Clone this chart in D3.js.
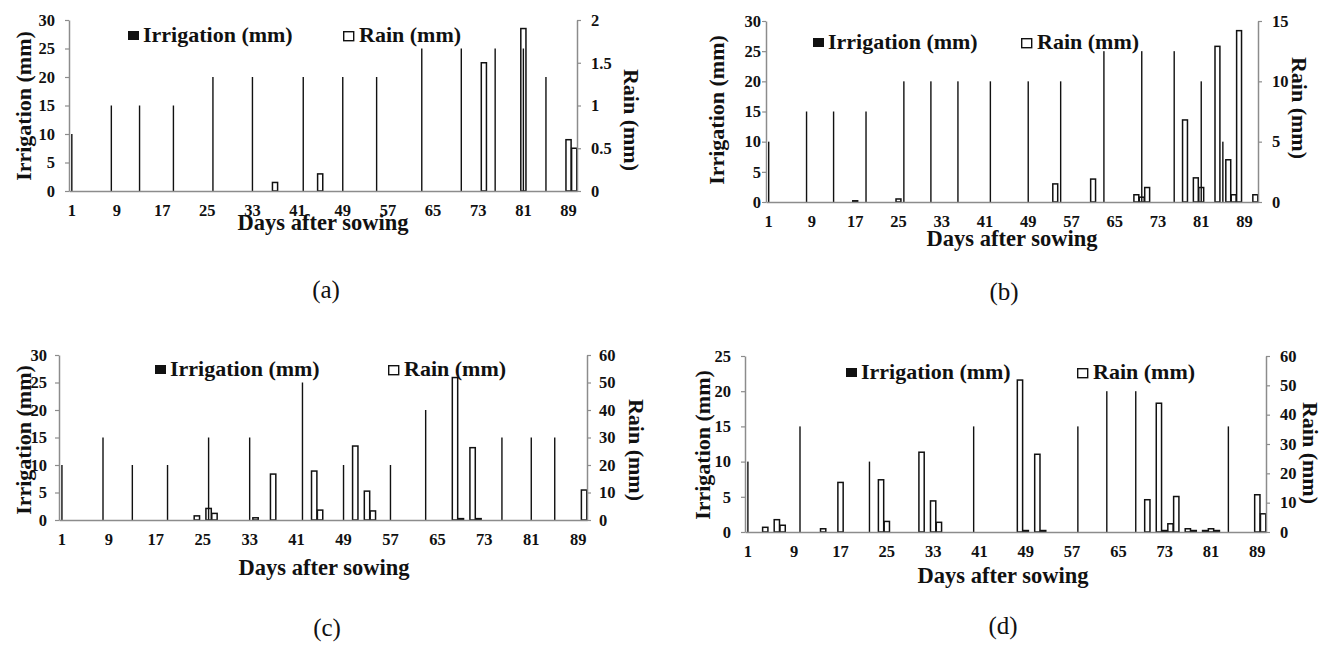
<!DOCTYPE html>
<html>
<head>
<meta charset="utf-8">
<script src="https://cdn.jsdelivr.net/npm/d3@7"></script>
<style>
  body { margin: 0; background: #fff; }
  svg { display: block; }
  text { font-family: "Liberation Serif", "Times New Roman", "DejaVu Serif", serif; fill: #111; }
</style>
</head>
<body>
<div id="chart"></div>
<script>
// x tick labels shared by all four panels
var xTickLabels = [1, 9, 17, 25, 33, 41, 49, 57, 65, 73, 81, 89];
var irrTicks30 = [0, 5, 10, 15, 20, 25, 30];
var irrTicks25 = [0, 5, 10, 15, 20, 25];
var rainTicksA = [0, 0.5, 1, 1.5, 2];
var rainTicksB = [0, 5, 10, 15];
var rainTicksCD = [0, 10, 20, 30, 40, 50, 60];

// (a)
var irrDaysA = [1, 8, 13, 19, 26, 33, 42, 49, 55, 63, 70, 76, 81, 85];
var irrValsA = [10, 15, 15, 15, 20, 20, 20, 20, 20, 25, 25, 25, 25, 20];
var rainDaysA = [37, 45, 74, 81, 89, 90];
var rainValsA = [0.1, 0.2, 1.5, 1.9, 0.6, 0.5];

// (b)
var irrDaysB = [1, 8, 13, 19, 26, 31, 36, 42, 49, 55, 63, 70, 76, 81, 85];
var irrValsB = [10, 15, 15, 15, 20, 20, 20, 20, 20, 20, 25, 25, 25, 20, 10];
var rainDaysB = [17, 25, 54, 61, 69, 70, 71, 78, 80, 81, 84, 86, 87, 88, 91];
var rainValsB = [0.1, 0.25, 1.5, 1.9, 0.6, 0.4, 1.2, 6.8, 2.0, 1.2, 12.9, 3.5, 0.6, 14.2, 0.6];

// (c)
var irrDaysC = [1, 8, 13, 19, 26, 33, 42, 49, 57, 63, 76, 81, 85];
var irrValsC = [10, 15, 10, 10, 15, 15, 25, 10, 10, 20, 15, 15, 15];
var rainDaysC = [24, 26, 27, 34, 37, 44, 45, 51, 53, 54, 68, 69, 71, 72, 90];
var rainValsC = [1.5, 4.2, 2.4, 0.8, 16.7, 17.8, 3.6, 26.9, 10.5, 3.3, 51.8, 0.5, 26.3, 0.5, 10.9];

// (d)
var irrDaysD = [1, 10, 22, 40, 58, 63, 68, 84];
var irrValsD = [10, 15, 10, 15, 15, 20, 20, 15];
var rainDaysD = [4, 6, 7, 14, 17, 24, 25, 31, 33, 34, 48, 49, 51, 52, 70, 72, 73, 74, 75, 77, 78, 80, 81, 82, 89, 90];
var rainValsD = [1.6, 4.2, 2.3, 1.1, 16.9, 17.8, 3.6, 27.2, 10.6, 3.3, 51.8, 0.5, 26.5, 0.5, 11, 43.9, 0.5, 2.8, 12.1, 1.1, 0.5, 0.5, 1.1, 0.5, 12.7, 6.2];

var FONT = '"Liberation Serif", "Times New Roman", "DejaVu Serif", serif';

var svg = d3.select('#chart')
    .append('svg')
    .attr('width', 1338)
    .attr('height', 645);

var panels = [
    { tag: '(a)', nDays: 90, left: 69, right: 577, top: 20, bottom: 191,
      irrMax: 30, irrTicks: irrTicks30, rainMax: 2, rainTicks: rainTicksA,
      irrDays: irrDaysA, irrVals: irrValsA, rainDays: rainDaysA, rainVals: rainValsA,
      lGap: 14, rGap: 14, lTitleX: 23, lTitleY: 106, rTitleX: 632, rTitleY: 120,
      legIrrX: 128, legRainX: 343, legY: 31,
      daysX: 323, daysY: 230, tagX: 326, tagY: 298 },
    { tag: '(b)', nDays: 91, left: 766, right: 1258, top: 21, bottom: 202,
      irrMax: 30, irrTicks: irrTicks30, rainMax: 15, rainTicks: rainTicksB,
      irrDays: irrDaysB, irrVals: irrValsB, rainDays: rainDaysB, rainVals: rainValsB,
      lGap: 5, rGap: 14, lTitleX: 716, lTitleY: 110, rTitleX: 1300, rTitleY: 108,
      legIrrX: 813, legRainX: 1021, legY: 38,
      daysX: 1012, daysY: 246, tagX: 1004, tagY: 300 },
    { tag: '(c)', nDays: 90, left: 59, right: 587, top: 355, bottom: 520,
      irrMax: 30, irrTicks: irrTicks30, rainMax: 60, rainTicks: rainTicksCD,
      irrDays: irrDaysC, irrVals: irrValsC, rainDays: rainDaysC, rainVals: rainValsC,
      lGap: 12, rGap: 12, lTitleX: 23, lTitleY: 440, rTitleX: 637, rTitleY: 450,
      legIrrX: 155, legRainX: 388, legY: 365,
      daysX: 324, daysY: 575, tagX: 327, tagY: 636 },
    { tag: '(d)', nDays: 90, left: 745, right: 1266, top: 356, bottom: 532,
      irrMax: 25, irrTicks: irrTicks25, rainMax: 60, rainTicks: rainTicksCD,
      irrDays: irrDaysD, irrVals: irrValsD, rainDays: rainDaysD, rainVals: rainValsD,
      lGap: 14, rGap: 14, lTitleX: 702, lTitleY: 445, rTitleX: 1311, rTitleY: 453,
      legIrrX: 846, legRainX: 1077, legY: 368,
      daysX: 1003, daysY: 583, tagX: 1003, tagY: 634 }
];

panels.forEach(drawPanel);

function drawPanel(p) {
    var g = svg.append('g');

    var x = d3.scaleBand()
        .domain(d3.range(1, p.nDays + 1))
        .range([p.left, p.right])
        .padding(0);
    var bw = x.bandwidth();

    var yIrr = d3.scaleLinear().domain([0, p.irrMax]).range([p.bottom, p.top]);
    var yRain = d3.scaleLinear().domain([0, p.rainMax]).range([p.bottom, p.top]);

    // rain bars (open) go first, irrigation lines on top
    var rain = p.rainDays.map(function (d, i) { return { day: d, value: p.rainVals[i] }; });
    var irr = p.irrDays.map(function (d, i) { return { day: d, value: p.irrVals[i] }; });

    g.selectAll('.rain')
        .data(rain)
        .enter()
        .append('rect')
        .attr('class', 'rain')
        .attr('x', function (d) { return x(d.day) + 0.25; })
        .attr('width', bw - 0.5)
        .attr('y', function (d) { return yRain(d.value); })
        .attr('height', function (d) { return p.bottom - yRain(d.value); })
        .attr('fill', '#fff')
        .attr('stroke', '#111')
        .attr('stroke-width', 1.5);

    g.selectAll('.irr')
        .data(irr)
        .enter()
        .append('rect')
        .attr('class', 'irr')
        .attr('x', function (d) { return x(d.day) + bw / 2 - 0.7; })
        .attr('width', 1.4)
        .attr('y', function (d) { return yIrr(d.value); })
        .attr('height', function (d) { return p.bottom - yIrr(d.value); })
        .attr('fill', '#111');

    // axes
    var xAxis = g.append('g')
        .attr('transform', 'translate(0,' + p.bottom + ')')
        .call(d3.axisBottom(x).tickValues(xTickLabels).tickSize(0).tickSizeOuter(0).tickPadding(13));

    var lAxis = g.append('g')
        .attr('transform', 'translate(' + p.left + ',0)')
        .call(d3.axisLeft(yIrr).tickValues(p.irrTicks).tickSize(4).tickSizeOuter(0).tickPadding(p.lGap - 4));

    var rAxis = g.append('g')
        .attr('transform', 'translate(' + p.right + ',0)')
        .call(d3.axisRight(yRain).tickValues(p.rainTicks).tickSize(4).tickSizeOuter(0)
            .tickPadding(p.rGap - 4).tickFormat(d3.format('')));

    [xAxis, lAxis, rAxis].forEach(function (a) {
        a.attr('font-family', FONT);
        a.select('.domain').attr('stroke', '#8c8c8c').attr('stroke-width', 1.5);
        a.selectAll('.tick line').attr('stroke', '#8c8c8c').attr('stroke-width', 1.2);
        a.selectAll('text')
            .attr('font-family', FONT)
            .attr('font-weight', 'bold')
            .attr('font-size', 16.5)
            .attr('fill', '#111');
    });

    // axis titles
    g.append('text')
        .attr('transform', 'translate(' + p.lTitleX + ',' + p.lTitleY + ') rotate(-90)')
        .attr('text-anchor', 'middle')
        .attr('dy', '0.35em')
        .attr('font-family', FONT)
        .attr('font-weight', 'bold')
        .attr('font-size', 22)
        .text('Irrigation (mm)');

    g.append('text')
        .attr('transform', 'translate(' + p.rTitleX + ',' + p.rTitleY + ') rotate(90)')
        .attr('text-anchor', 'middle')
        .attr('dy', '0.35em')
        .attr('font-family', FONT)
        .attr('font-weight', 'bold')
        .attr('font-size', 22)
        .text('Rain (mm)');

    g.append('text')
        .attr('x', p.daysX)
        .attr('y', p.daysY)
        .attr('text-anchor', 'middle')
        .attr('font-family', FONT)
        .attr('font-weight', 'bold')
        .attr('font-size', 22.5)
        .text('Days after sowing');

    g.append('text')
        .attr('x', p.tagX)
        .attr('y', p.tagY)
        .attr('text-anchor', 'middle')
        .attr('font-family', FONT)
        .attr('font-size', 25)
        .text(p.tag);

    // legend
    var legend = g.append('g').attr('font-family', FONT);
    legend.append('rect')
        .attr('x', p.legIrrX).attr('y', p.legY)
        .attr('width', 11).attr('height', 9)
        .attr('fill', '#111');
    legend.append('text')
        .attr('x', p.legIrrX + 15).attr('y', p.legY + 11)
        .attr('font-family', FONT)
        .attr('font-weight', 'bold')
        .attr('font-size', 22)
        .text('Irrigation (mm)');
    legend.append('rect')
        .attr('x', p.legRainX + 0.7).attr('y', p.legY + 0.7)
        .attr('width', 10).attr('height', 9)
        .attr('fill', '#fff')
        .attr('stroke', '#111')
        .attr('stroke-width', 1.4);
    legend.append('text')
        .attr('x', p.legRainX + 16).attr('y', p.legY + 11)
        .attr('font-family', FONT)
        .attr('font-weight', 'bold')
        .attr('font-size', 22)
        .text('Rain (mm)');
}
</script>
</body>
</html>
